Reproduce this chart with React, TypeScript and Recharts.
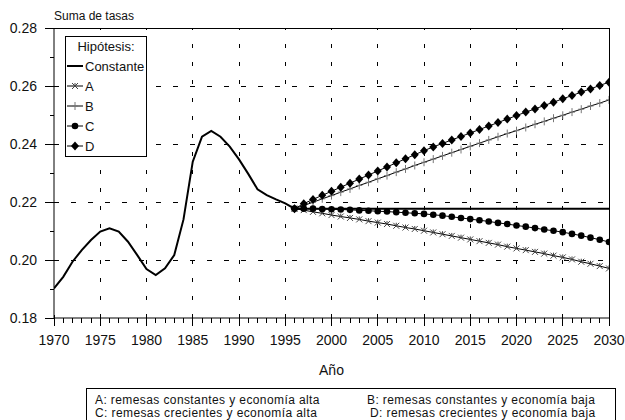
import React from 'react'
import { LineChart, Line, XAxis, YAxis, ReferenceLine, Legend, Label } from 'recharts'

// años 1970-2030
const years: number[] = Array.from({ length: 61 }, (_, i) => 1970 + i)

// serie observada 1970-1995
const historico = [
  0.1902, 0.1942, 0.1994, 0.2034, 0.2069, 0.2098, 0.2109, 0.2098, 0.2063, 0.2017,
  0.1969, 0.1948, 0.1971, 0.2017, 0.214, 0.2339, 0.2425, 0.2445, 0.2425, 0.2391,
  0.2347, 0.2297, 0.2244, 0.2224, 0.2209, 0.2195
]

// proyecciones 1996-2030
const constante = [
  0.2177, 0.2177, 0.2177, 0.2177, 0.2177, 0.2177, 0.2177, 0.2177, 0.2177, 0.2177,
  0.2177, 0.2177, 0.2177, 0.2177, 0.2177, 0.2177, 0.2177, 0.2177, 0.2177, 0.2177,
  0.2177, 0.2177, 0.2177, 0.2177, 0.2177, 0.2177, 0.2177, 0.2177, 0.2177, 0.2177,
  0.2177, 0.2177, 0.2177, 0.2177, 0.2177
]
const serieA = [
  0.2177, 0.2172, 0.2166, 0.2161, 0.2155, 0.215, 0.2145, 0.214, 0.2134, 0.2129,
  0.2124, 0.2118, 0.2112, 0.2107, 0.2101, 0.2095, 0.2089, 0.2083, 0.2077, 0.2071,
  0.2065, 0.2059, 0.2053, 0.2046, 0.204, 0.2034, 0.2028, 0.2022, 0.2015, 0.2009,
  0.2002, 0.1994, 0.1987, 0.1979, 0.1971
]
const serieB = [
  0.2177, 0.2188, 0.2199, 0.2211, 0.2222, 0.2234, 0.2245, 0.2257, 0.2268, 0.228,
  0.2291, 0.2303, 0.2314, 0.2326, 0.2337, 0.2348, 0.2359, 0.237, 0.2381, 0.2392,
  0.2403, 0.2414, 0.2425, 0.2436, 0.2446, 0.2457, 0.2468, 0.2478, 0.2489, 0.2499,
  0.251, 0.252, 0.2531, 0.2541, 0.2552
]
const serieC = [
  0.2177, 0.2177, 0.2177, 0.2176, 0.2175, 0.2174, 0.2173, 0.2171, 0.217, 0.2168,
  0.2167, 0.2165, 0.2163, 0.2161, 0.2159, 0.2156, 0.2153, 0.2149, 0.2145, 0.2141,
  0.2137, 0.2133, 0.2128, 0.2124, 0.2119, 0.2115, 0.211, 0.2105, 0.2101, 0.2096,
  0.209, 0.2084, 0.2077, 0.207, 0.2062
]
const serieD = [
  0.2177, 0.2194, 0.2209, 0.2223, 0.2237, 0.2251, 0.2265, 0.2279, 0.2293, 0.2307,
  0.2321, 0.2335, 0.2349, 0.2363, 0.2377, 0.239, 0.2402, 0.2414, 0.2426, 0.2438,
  0.245, 0.2462, 0.2474, 0.2486, 0.2498, 0.251, 0.2521, 0.2533, 0.2544, 0.2556,
  0.2567, 0.2579, 0.259, 0.2602, 0.2613
]

const yTicks = [0.18, 0.19, 0.2, 0.21, 0.22, 0.23, 0.24, 0.25, 0.26, 0.27, 0.28]
const gridYears = [1975, 1980, 1985, 1990, 1995, 2000, 2005, 2010, 2015, 2020, 2025]
const gridValues = [0.2, 0.22, 0.24, 0.26]
const legendOrder = ['constante', 'a', 'b', 'c', 'd']

const notas = [
  ['A: remesas constantes y economía alta', 'B: remesas constantes y economía baja'],
  ['C: remesas crecientes y economía alta', 'D: remesas crecientes y economía baja']
]

const START = 1996
const proj = (arr: number[], yr: number) => (yr >= START ? arr[yr - START] : null)

const data = years.map((yr) => ({
  year: yr,
  constante: yr < START ? historico[yr - 1970] : constante[yr - START],
  a: proj(serieA, yr),
  b: proj(serieB, yr),
  c: proj(serieC, yr),
  d: proj(serieD, yr)
}))

const FONT = '"Liberation Sans", Arial, sans-serif'

const Marker = ({ kind, cx, cy }: { kind: string; cx: number; cy: number }) => {
  if (kind === 'a') {
    return (
      <g stroke="#444" strokeWidth={1}>
        <line x1={cx - 3} y1={cy - 3} x2={cx + 3} y2={cy + 3} />
        <line x1={cx - 3} y1={cy + 3} x2={cx + 3} y2={cy - 3} />
        <line x1={cx} y1={cy - 3} x2={cx} y2={cy + 1} />
      </g>
    )
  }
  if (kind === 'b') {
    return (
      <g stroke="#777" strokeWidth={1}>
        <line x1={cx} y1={cy - 4} x2={cx} y2={cy + 4} />
        <line x1={cx - 3} y1={cy} x2={cx + 3} y2={cy} />
      </g>
    )
  }
  if (kind === 'c') return <circle cx={cx} cy={cy} r={3.3} fill="#000" />
  if (kind === 'd') {
    return (
      <polygon
        points={`${cx},${cy - 4.5} ${cx + 4},${cy} ${cx},${cy + 4.5} ${cx - 4},${cy}`}
        fill="#000"
      />
    )
  }
  return null
}

const dotFor = (kind: string) => (p: any) => {
  if (p.cy == null || p.value == null) return <g key={`${kind}-${p.index}`} />
  return (
    <g key={`${kind}-${p.index}`}>
      <Marker kind={kind} cx={p.cx} cy={p.cy} />
    </g>
  )
}

const XTick = (props: any) => {
  const { x, y, payload } = props
  const v = payload.value
  const major = v % 5 === 0
  return (
    <g>
      <line
        x1={x}
        x2={x}
        y1={major ? y - 3 : y}
        y2={major ? y + 8 : y + 5}
        stroke="#000"
        shapeRendering="crispEdges"
      />
      {major && (
        <text x={x} y={y + 27} textAnchor="middle" fontSize={14} fill="#111" fontFamily={FONT}>
          {v}
        </text>
      )}
    </g>
  )
}

const YTick = (props: any) => {
  const { x, y, payload } = props
  const v = payload.value
  const major = Math.round(v * 100) % 2 === 0
  return (
    <g>
      <line
        x1={x - (major ? 9 : 4)}
        x2={x}
        y1={y}
        y2={y}
        stroke="#000"
        shapeRendering="crispEdges"
      />
      {major && (
        <text x={x - 17} y={y + 5} textAnchor="end" fontSize={14} fill="#111" fontFamily={FONT}>
          {v.toFixed(2)}
        </text>
      )}
    </g>
  )
}

const LegendBox = (props: any) => {
  const items = [...(props.payload || [])].sort(
    (p: any, q: any) => legendOrder.indexOf(p.dataKey) - legendOrder.indexOf(q.dataKey)
  )
  return (
    <div
      style={{
        border: '1px solid #000',
        background: '#fff',
        width: 80,
        fontFamily: FONT,
        color: '#111'
      }}
    >
      <div style={{ height: 19, lineHeight: '19px', fontSize: 13, textAlign: 'center' }}>
        Hipótesis:
      </div>
      {items.map((it: any) => (
        <div
          key={it.dataKey}
          style={{ height: 20, display: 'flex', alignItems: 'center', fontSize: 13 }}
        >
          <svg width={17} height={12} style={{ marginLeft: 1 }}>
            <line
              x1={0}
              x2={16}
              y1={6}
              y2={6}
              stroke="#000"
              strokeWidth={it.dataKey === 'constante' ? 2 : 1}
            />
            <Marker kind={it.dataKey} cx={8} cy={6} />
          </svg>
          <span style={{ marginLeft: 1 }}>{it.value}</span>
        </div>
      ))}
    </div>
  )
}

const App = () => {
  return (
    <div
      style={{
        position: 'absolute',
        left: 0,
        top: 0,
        width: 625,
        height: 420,
        overflow: 'hidden',
        background: '#fff',
        fontFamily: FONT
      }}
    >
      <LineChart
        width={625}
        height={420}
        data={data}
        margin={{ top: 28, right: 16, left: 0, bottom: 72 }}
      >
        <XAxis
          dataKey="year"
          type="number"
          domain={[1970, 2030]}
          ticks={years}
          interval={0}
          tickSize={0}
          tickMargin={0}
          tickLine={false}
          tick={XTick}
          axisLine={{ stroke: '#000' }}
          height={30}
          allowDataOverflow
        >
          <Label value="Año" position="bottom" offset={17} fontSize={14} fill="#111" />
        </XAxis>
        <YAxis
          type="number"
          domain={[0.18, 0.28]}
          ticks={yTicks}
          interval={0}
          tickSize={0}
          tickMargin={0}
          tickLine={false}
          tick={YTick}
          axisLine={{ stroke: '#000' }}
          width={54}
          allowDataOverflow
        >
          <Label
            content={(p: any) => (
              <text
                x={p.viewBox.x + p.viewBox.width}
                y={p.viewBox.y - 8}
                fontSize={12}
                fill="#111"
                fontFamily={FONT}
              >
                Suma de tasas
              </text>
            )}
          />
        </YAxis>

        {gridValues.map((v) => (
          <ReferenceLine
            key={`h${v}`}
            y={v}
            stroke="#000"
            strokeDasharray="5 12"
            shapeRendering="crispEdges"
          />
        ))}
        {gridYears.map((yr) => (
          <ReferenceLine
            key={`v${yr}`}
            x={yr}
            stroke="#000"
            strokeDasharray="4 14"
            shapeRendering="crispEdges"
          />
        ))}
        <ReferenceLine y={0.28} stroke="#000" shapeRendering="crispEdges" />
        <ReferenceLine x={2030} stroke="#000" shapeRendering="crispEdges" />

        <Line
          type="linear"
          dataKey="constante"
          name="Constante"
          stroke="#000"
          strokeWidth={2}
          dot={false}
          activeDot={false}
          isAnimationActive={false}
        />
        <Line
          type="linear"
          dataKey="a"
          name="A"
          stroke="#000"
          strokeWidth={1}
          dot={dotFor('a')}
          activeDot={false}
          isAnimationActive={false}
        />
        <Line
          type="linear"
          dataKey="b"
          name="B"
          stroke="#000"
          strokeWidth={1}
          dot={dotFor('b')}
          activeDot={false}
          isAnimationActive={false}
        />
        <Line
          type="linear"
          dataKey="c"
          name="C"
          stroke="#000"
          strokeWidth={1}
          dot={dotFor('c')}
          activeDot={false}
          isAnimationActive={false}
        />
        <Line
          type="linear"
          dataKey="d"
          name="D"
          stroke="#000"
          strokeWidth={1}
          dot={dotFor('d')}
          activeDot={false}
          isAnimationActive={false}
        />

        <Legend
          layout="vertical"
          align="center"
          verticalAlign="middle"
          content={LegendBox}
          wrapperStyle={{ left: 65, top: 36, width: 82 }}
        />
      </LineChart>

      {/* nota con la descripción de las hipótesis */}
      <div
        style={{
          position: 'absolute',
          left: 86,
          top: 388,
          width: 528,
          height: 40,
          border: '1px solid #000',
          fontSize: 12,
          lineHeight: '13px',
          letterSpacing: 0.4,
          color: '#111'
        }}
      >
        {notas.map((fila, i) => (
          <React.Fragment key={i}>
            <span style={{ position: 'absolute', left: 8, top: 5 + i * 13, whiteSpace: 'nowrap' }}>
              {fila[0]}
            </span>
            <span
              style={{
                position: 'absolute',
                left: 280 + i * 3,
                top: 5 + i * 13,
                whiteSpace: 'nowrap'
              }}
            >
              {fila[1]}
            </span>
          </React.Fragment>
        ))}
      </div>
    </div>
  )
}

export default App
